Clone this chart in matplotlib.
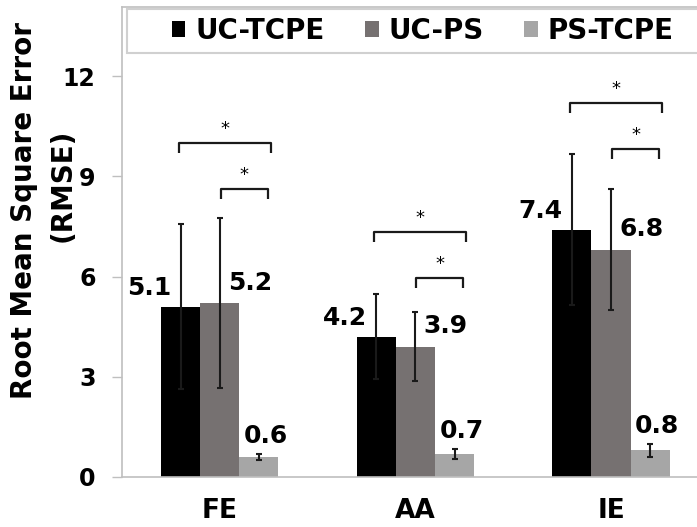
import matplotlib.pyplot as plt
from matplotlib.patches import Patch, Rectangle
import numpy as np

categories = ['FE', 'AA', 'IE']
series = ['UC-TCPE', 'UC-PS', 'PS-TCPE']
uc_tcpe = [5.1, 4.2, 7.4]
uc_ps = [5.2, 3.9, 6.8]
ps_tcpe = [0.6, 0.7, 0.8]
uc_tcpe_err = [2.48, 1.27, 2.26]
uc_ps_err = [2.55, 1.03, 1.81]
ps_tcpe_err = [0.1, 0.15, 0.2]
# heights of the significance brackets (wide: UC-TCPE vs PS-TCPE, narrow: UC-PS vs PS-TCPE)
wide_bracket = [10.0, 7.33, 11.2]
narrow_bracket = [8.62, 5.96, 9.82]
colors = ['#000000', '#767171', '#a6a6a6']

fig = plt.figure(figsize=(6.97, 5.27), dpi=100)
ax = fig.add_axes([0.175, 0.0949, 0.842, 0.892])

x = np.arange(len(categories))
w = 0.2
values = [uc_tcpe, uc_ps, ps_tcpe]
errors = [uc_tcpe_err, uc_ps_err, ps_tcpe_err]
offsets = [-w, 0, w]

for vals, errs, off, c, name in zip(values, errors, offsets, colors, series):
    ax.bar(x + off, vals, width=w, color=c, yerr=errs, capsize=2.5, label=name,
           error_kw=dict(elinewidth=1.5, capthick=1.5, ecolor='#1a1a1a'))

# value labels
lab = dict(fontsize=18, fontweight='bold', va='baseline')
for i in range(len(categories)):
    ax.text(x[i] - w - 0.16, uc_tcpe[i] + 0.35, f'{uc_tcpe[i]:.1f}', ha='center', **lab)
    ax.text(x[i] + 0.155, uc_ps[i] + 0.41, f'{uc_ps[i]:.1f}', ha='center', **lab)
    ax.text(x[i] + w + 0.035, ps_tcpe[i] + ps_tcpe_err[i] + 0.32, f'{ps_tcpe[i]:.1f}',
            ha='center', **lab)

# significance brackets
def bracket(x0, x1, y):
    ax.plot([x0, x0, x1, x1], [y - 0.3, y, y, y - 0.3], color='#1a1a1a', lw=1.6,
            solid_capstyle='butt')
    ax.text((x0 + x1) / 2, y + 0.42, '*', ha='center', va='center', fontsize=13)

for i in range(len(categories)):
    bracket(x[i] - 0.21, x[i] + 0.26, wide_bracket[i])
    bracket(x[i] + 0.005, x[i] + 0.245, narrow_bracket[i])

ax.set_xlim(-0.5, 2.5)
ax.set_ylim(0, 14.07)
ax.set_yticks([0, 3, 6, 9, 12])
ax.set_xticks(x)
ax.set_xticklabels(categories, fontsize=19, fontweight='bold')
for t in ax.get_yticklabels():
    t.set_fontweight('bold')
ax.tick_params(axis='y', length=7, width=1, color='#bfbfbf', pad=12, labelsize=17)
ax.tick_params(axis='x', length=0, pad=15)
for s in ['left', 'top', 'bottom', 'right']:
    ax.spines[s].set_color('#bfbfbf')
    ax.spines[s].set_linewidth(1.2)

# legend box across the top of the plot area
ax.add_patch(Rectangle((0.0085, 0.902), 0.99, 0.094, transform=ax.transAxes,
                       facecolor='white', edgecolor='#d0d0d0', lw=1.5, zorder=3))
handles = [Patch(facecolor=c) for c in colors]
leg = ax.legend(handles, series, loc='center', bbox_to_anchor=(0.512, 0.949), ncol=3,
                frameon=False, handlelength=0.5, handleheight=0.5, handletextpad=0.35,
                columnspacing=1.45, prop=dict(size=20, weight='bold'))
leg.set_zorder(4)

# y axis title, two lines placed separately
fig.text(0.034, 0.6, 'Root Mean Square Error', rotation=90, ha='center',
         va='center', fontsize=20, fontweight='bold')
fig.text(0.090, 0.649, '(RMSE)', rotation=90, ha='center',
         va='center', fontsize=20, fontweight='bold')

plt.savefig('out.png', dpi=100)
